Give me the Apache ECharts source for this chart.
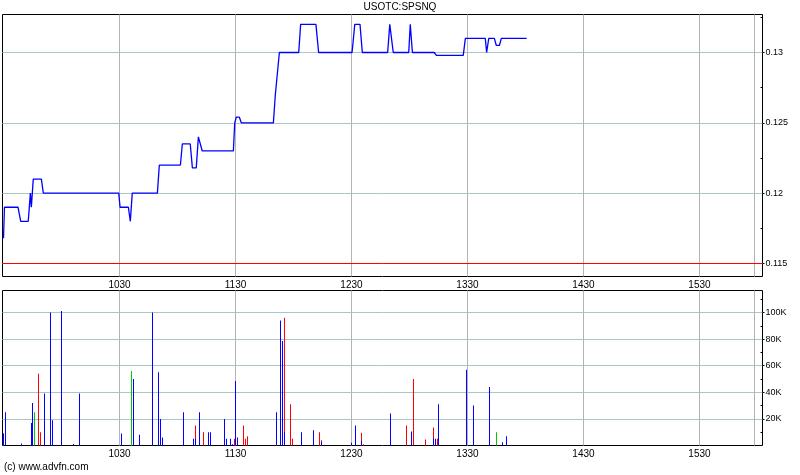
<!DOCTYPE html>
<html><head><meta charset="utf-8">
<script src="https://cdn.jsdelivr.net/npm/echarts@6/dist/echarts.min.js"></script>
<style>html,body{margin:0;padding:0;background:#fff}#c{width:800px;height:475px}</style>
</head><body><div id="c"></div>
<script>
const chartTitle = 'USOTC:SPSNQ';
const copyright = '(c) www.advfn.com';

// x axis: minutes after 09:30
const xTickMinutes = [60, 120, 180, 240, 300, 360];
const xTickLabels = ['1030', '1130', '1230', '1330', '1430', '1530'];
const closeMinute = 388.45;

const priceTicks = [0.115, 0.12, 0.125, 0.13];
const priceTickLabels = ['0.115', '0.12', '0.125', '0.13'];
const priceMinorTicks = [0.1175, 0.1225, 0.1275, 0.1325];
const prevClose = 0.115;

const volTicks = [20000, 40000, 60000, 80000, 100000];
const volTickLabels = ['20K', '40K', '60K', '80K', '100K'];
const volMinorTicks = [10000, 30000, 50000, 70000, 90000, 110000];

const priceTimes = [0, 0.5, 7.5, 8.9, 12.8, 13.9, 14.4, 15.4, 19.6, 20.6,
  59.6, 60.3, 64.6, 65.6, 66.6, 79.6, 80.6, 91.5, 92.5, 96.6,
  97.7, 99.7, 100.8, 101.8, 102.8, 118.9, 119.6, 120.4, 122.0, 123.0,
  139.6, 140.6, 141.6, 142.7, 152.7, 153.7, 161.6, 163.0, 180.3, 181.7,
  184.4, 185.6, 198.7, 199.8, 201.6, 209.6, 210.4, 211.5, 222.8, 223.9,
  237.8, 238.9, 249.2, 249.9, 251.0, 253.9, 254.9, 256.5, 257.5, 270.6];
const priceValues = [0.1168, 0.119, 0.119, 0.118, 0.118, 0.120, 0.119, 0.121, 0.121, 0.120,
  0.120, 0.119, 0.119, 0.118, 0.120, 0.120, 0.122, 0.122, 0.1235, 0.1235,
  0.1218, 0.1218, 0.124, 0.124, 0.123, 0.123, 0.125, 0.1254, 0.1254, 0.125,
  0.125, 0.127, 0.127, 0.130, 0.130, 0.132, 0.132, 0.130, 0.130, 0.132,
  0.132, 0.130, 0.130, 0.132, 0.130, 0.130, 0.132, 0.130, 0.130, 0.1298,
  0.1298, 0.131, 0.131, 0.130, 0.131, 0.131, 0.1305, 0.1305, 0.131, 0.131];

const volTimes = [0, 1.03, 9.31, 14.48, 15.0, 16.03, 18.1, 19.14, 21.21, 24.31,
  25.34, 30.0, 36.21, 39.31, 61.03, 66.21, 67.24, 70.34, 77.07, 80.17,
  81.21, 82.24, 93.1, 98.28, 99.31, 101.38, 103.45, 106.03, 107.07, 114.31,
  115.34, 117.41, 118.45, 119.48, 120.0, 121.03, 124.14, 125.17, 126.21, 141.21,
  143.28, 144.31, 145.34, 148.45, 149.48, 154.14, 160.34, 163.45, 164.48, 180.0,
  182.07, 185.17, 186.21, 200.17, 208.45, 211.03, 212.07, 218.28, 222.41, 223.45,
  224.48, 225.0, 239.48, 243.1, 251.38, 255.0, 258.1, 260.17];
const volRed = [0, 0, 0, 0, 5000, 0, 54000, 10000, 0, 0,
  0, 0, 0, 0, 0, 28000, 0, 0, 0, 0,
  12000, 0, 0, 0, 15000, 0, 10000, 0, 0, 0,
  0, 0, 0, 5000, 0, 0, 15000, 5000, 7000, 0,
  0, 0, 96000, 31000, 5000, 0, 0, 10000, 4000, 0,
  0, 9500, 1000, 0, 15000, 0, 50000, 4500, 13500, 5000,
  5000, 5000, 0, 0, 0, 0, 0, 0];
const volGreen = [9000, 0, 0, 0, 0, 25000, 0, 0, 0, 0,
  0, 0, 0, 0, 0, 56000, 0, 0, 0, 0,
  0, 0, 0, 0, 0, 0, 0, 0, 0, 0,
  0, 0, 0, 0, 0, 0, 0, 0, 0, 16000,
  0, 0, 0, 0, 0, 0, 0, 0, 0, 0,
  0, 0, 0, 0, 0, 0, 0, 0, 0, 0,
  0, 0, 0, 0, 0, 10000, 0, 0];
const volBlue = [9000, 25000, 1500, 17000, 32000, 0, 0, 0, 39000, 100000,
  19000, 101000, 1200, 39000, 9000, 0, 50000, 8000, 100000, 55000,
  20000, 6000, 25000, 5000, 5000, 25000, 0, 10000, 10000, 20000,
  5000, 5000, 1000, 0, 48500, 6000, 0, 0, 0, 25000,
  94000, 78500, 10000, 0, 0, 10000, 11500, 0, 3000, 2000,
  15000, 3500, 0, 24000, 0, 10500, 0, 0, 5500, 4750,
  0, 31000, 57000, 30000, 44000, 0, 2500, 7000];

const FONT = '"Liberation Sans", Arial, sans-serif';
const HGRID = '#a9c5c5';
const VGRID = '#b4b4b4';
const X_MIN = -0.517, X_MAX = 392.59;

function xAxisDef(gridIndex) {
  return {
    type: 'value', gridIndex: gridIndex, min: X_MIN, max: X_MAX,
    axisLine: { show: false, onZero: false },
    axisTick: { show: false, customValues: xTickMinutes.concat([closeMinute]) },
    axisLabel: {
      customValues: xTickMinutes, margin: 4, color: '#000', fontSize: 10, fontFamily: FONT,
      formatter: function (v) { const i = xTickMinutes.indexOf(v); return i >= 0 ? xTickLabels[i] : ''; }
    },
    splitLine: { show: true, lineStyle: { color: VGRID, width: 1 } }
  };
}
function minorAxis(gridIndex, min, max, vals) {
  return {
    type: 'value', gridIndex: gridIndex, position: 'right', min: min, max: max,
    axisLine: { show: false, onZero: false }, axisLabel: { show: false }, splitLine: { show: false },
    axisTick: { show: true, inside: true, length: 2, customValues: vals, lineStyle: { color: '#000' } }
  };
}

const chart = echarts.init(document.getElementById('c'), null, { renderer: 'canvas' });
const mk = arr => volTimes.map((t, i) => [t, arr[i]]);
chart.setOption({
  animation: false,
  backgroundColor: '#fff',
  title: { text: chartTitle, left: 'center', top: 2, padding: 0,
    textStyle: { fontSize: 10, fontWeight: 'normal', color: '#000', fontFamily: FONT } },
  graphic: [{ type: 'text', left: 4, top: 462, style: { text: copyright, fontSize: 10, fill: '#000', fontFamily: FONT } }],
  grid: [
    { left: 2.5, right: 37.5, top: 14.5, height: 262, show: true, borderColor: '#000', borderWidth: 1, backgroundColor: 'transparent' },
    { left: 2.5, right: 37.5, top: 290.5, height: 155, show: true, borderColor: '#000', borderWidth: 1, backgroundColor: 'transparent' }
  ],
  xAxis: [xAxisDef(0), xAxisDef(1)],
  yAxis: [
    { type: 'value', gridIndex: 0, position: 'right', min: 0.114076, max: 0.1327014,
      axisLine: { show: false, onZero: false },
      axisTick: { show: true, length: 2, customValues: priceTicks, lineStyle: { color: '#000' } },
      axisLabel: { customValues: priceTicks, margin: 3, color: '#000', fontSize: 9, fontFamily: FONT,
        formatter: function (v) { const i = priceTicks.findIndex(p => Math.abs(p - v) < 1e-9); return i >= 0 ? priceTickLabels[i] : ''; } },
      splitLine: { show: true, lineStyle: { color: HGRID, width: 1 } } },
    minorAxis(0, 0.114076, 0.1327014, priceMinorTicks),
    { type: 'value', gridIndex: 1, position: 'right', min: 0, max: 116500,
      axisLine: { show: false, onZero: false },
      axisTick: { show: true, length: 2, customValues: volTicks, lineStyle: { color: '#000' } },
      axisLabel: { customValues: volTicks, margin: 3, color: '#000', fontSize: 9, fontFamily: FONT,
        formatter: function (v) { const i = volTicks.indexOf(v); return i >= 0 ? volTickLabels[i] : ''; } },
      splitLine: { show: true, lineStyle: { color: HGRID, width: 1 } } },
    minorAxis(1, 0, 116500, volMinorTicks)
  ],
  series: [
    { type: 'line', xAxisIndex: 0, yAxisIndex: 0, data: [[X_MIN, prevClose], [X_MAX, prevClose]],
      showSymbol: false, symbol: 'none', lineStyle: { color: '#ff0000', width: 1 }, silent: true, z: 3 },
    { type: 'line', xAxisIndex: 0, yAxisIndex: 0, data: priceTimes.map((t, i) => [t, priceValues[i]]),
      showSymbol: false, symbol: 'none', lineStyle: { color: '#0000ff', width: 1.3 }, silent: true, z: 4 },
    { type: 'bar', xAxisIndex: 1, yAxisIndex: 2, stack: 'vol', barWidth: 1, data: mk(volRed), itemStyle: { color: '#ff0000' }, silent: true },
    { type: 'bar', xAxisIndex: 1, yAxisIndex: 2, stack: 'vol', barWidth: 1, data: mk(volGreen), itemStyle: { color: '#00c800' }, silent: true },
    { type: 'bar', xAxisIndex: 1, yAxisIndex: 2, stack: 'vol', barWidth: 1, data: mk(volBlue), itemStyle: { color: '#0000ff' }, silent: true }
  ]
});
</script>
</body></html>
